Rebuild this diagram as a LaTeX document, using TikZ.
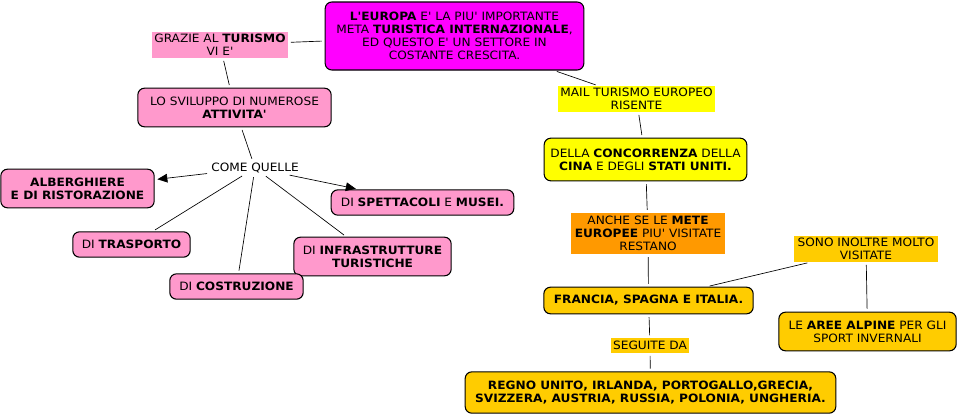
\documentclass[tikz,border=0pt]{standalone}
\usepackage{fontspec}
\setmainfont{DejaVu Sans}[Ligatures=TeXOff, FakeStretch=1.06]
\usetikzlibrary{arrows.meta}
\definecolor{magentabox}{HTML}{FF00FF}
\definecolor{pinkbox}{HTML}{FF99CC}
\definecolor{yellowbox}{HTML}{FFFF00}
\definecolor{orangebox}{HTML}{FF9900}
\definecolor{goldbox}{HTML}{FFCC00}
\newcommand{\mapfont}{\fontsize{8.6}{9.75}\selectfont}

\begin{document}
\begin{tikzpicture}[x=0.75pt, y=-0.75pt,
  concept/.style={draw=black, line width=0.8pt, rounded corners=5pt, align=center,
    font=\mapfont, inner sep=2pt},
  linkword/.style={align=center, font=\mapfont, inner sep=1pt},
  link/.style={draw=black, line width=0.5pt, shorten >=2pt, shorten <=2pt},
  arrowlink/.style={link, -{Triangle[length=7.5pt, width=6.5pt]}}]
  \useasboundingbox (0,0) rectangle (959,415);
  % left branch
  \node[concept, fill=magentabox, minimum width=194pt, minimum height=51pt] (europa) at (454.5,36)
    {\textbf{L'EUROPA} E' LA PIU' IMPORTANTE\\META \textbf{TURISTICA INTERNAZIONALE},\\ED QUESTO E' UN SETTORE IN\\COSTANTE CRESCITA.};
  \node[linkword, fill=pinkbox, minimum width=102pt, minimum height=19.5pt] (grazie) at (220,45)
    {GRAZIE AL \textbf{TURISMO}\\VI E'};
  \node[concept, fill=pinkbox, minimum width=145pt, minimum height=29pt] (sviluppo) at (234.5,107.5)
    {LO SVILUPPO DI NUMEROSE\\\textbf{ATTIVITA'}};
  \node[linkword] (come) at (255,168) {COME QUELLE};
  \node[concept, fill=pinkbox, minimum width=115pt, minimum height=29pt] (alberghi) at (77.5,188.5)
    {\textbf{ALBERGHIERE}\\\textbf{E DI RISTORAZIONE}};
  \node[concept, fill=pinkbox, minimum width=137pt, minimum height=19pt] (spettacoli) at (422.5,202.5)
    {DI \textbf{SPETTACOLI} E \textbf{MUSEI.}};
  \node[concept, fill=pinkbox, minimum width=88pt, minimum height=19pt] (trasporto) at (131.5,244.5)
    {DI \textbf{TRASPORTO}};
  \node[concept, fill=pinkbox, minimum width=118pt, minimum height=29pt] (infra) at (372.5,256.5)
    {DI \textbf{INFRASTRUTTURE}\\\textbf{TURISTICHE}};
  \node[concept, fill=pinkbox, minimum width=100pt, minimum height=19pt] (costruz) at (236.5,286.5)
    {DI \textbf{COSTRUZIONE}};
  % right branch
  \node[linkword, fill=yellowbox, minimum width=118pt, minimum height=19.5pt] (mail) at (636.5,99)
    {MAIL TURISMO EUROPEO\\RISENTE};
  \node[concept, fill=yellowbox, minimum width=152pt, minimum height=32pt] (concorrenza) at (645.5,159.5)
    {DELLA \textbf{CONCORRENZA} DELLA\\\textbf{CINA} E DEGLI \textbf{STATI UNITI.}};
  \node[linkword, fill=orangebox, minimum width=115.5pt, minimum height=31pt] (anche) at (648,233.5)
    {ANCHE SE LE \textbf{METE}\\\textbf{EUROPEE} PIU' VISITATE\\RESTANO};
  \node[concept, fill=goldbox, minimum width=157pt, minimum height=20pt] (francia) at (648.5,300.5)
    {\textbf{FRANCIA, SPAGNA E ITALIA.}};
  \node[linkword, fill=goldbox, minimum width=108pt, minimum height=19.5pt] (sono) at (866,249)
    {SONO INOLTRE MOLTO\\VISITATE};
  \node[concept, fill=goldbox, minimum width=133pt, minimum height=29pt] (alpine) at (867.5,331.5)
    {LE \textbf{AREE ALPINE} PER GLI\\SPORT INVERNALI};
  \node[linkword, fill=goldbox, minimum width=58pt, minimum height=11pt] (seguite) at (650,345.5)
    {SEGUITE DA};
  \node[concept, fill=goldbox, minimum width=278pt, minimum height=31pt] (regno) at (650.5,392.5)
    {\textbf{REGNO UNITO, IRLANDA, PORTOGALLO,GRECIA,}\\\textbf{SVIZZERA, AUSTRIA, RUSSIA, POLONIA, UNGHERIA.}};
  % connectors
  \foreach \a/\b in {europa/grazie, grazie/sviluppo, sviluppo/come, come/trasporto,
    come/costruz, come/infra, europa/mail, mail/concorrenza, concorrenza/anche,
    anche/francia, francia/sono, sono/alpine, francia/seguite, seguite/regno}
    \draw[link] (\a) -- (\b);
  \draw[arrowlink] (come) -- (alberghi);
  \draw[arrowlink] (come) -- (spettacoli);
\end{tikzpicture}
\end{document}
